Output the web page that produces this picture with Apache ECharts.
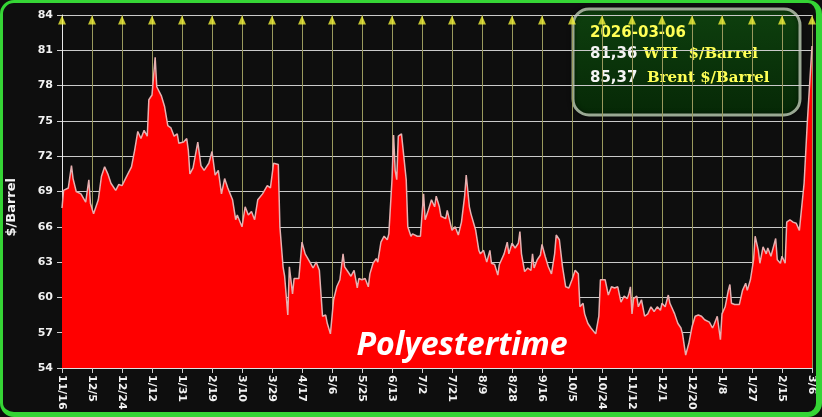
<!DOCTYPE html>
<html>
<head>
<meta charset="utf-8">
<script src="https://cdn.jsdelivr.net/npm/echarts@6/dist/echarts.min.js"></script>
<style>
  html, body { margin: 0; padding: 0; background: #000; }
  #wrap { position: relative; width: 822px; height: 417px; }
  #chart { position: absolute; left: 0; top: 0; width: 822px; height: 417px; }
  #frame {
    position: absolute; left: 0; top: 0; width: 822px; height: 417px;
    box-sizing: border-box; pointer-events: none;
    border: 3px solid #35d535; border-right-width: 6px; border-bottom-width: 5px;
    border-radius: 14px;
  }
</style>
</head>
<body>
<div id="wrap">
  <div id="chart"></div>
  <div id="frame"></div>
</div>
<script>
// tick labels, one every 19 days from 11/16
const xLabels = ['11/16', '12/5', '12/24', '1/12', '1/31', '2/19', '3/10', '3/29', '4/17', '5/6',
  '5/25', '6/13', '7/2', '7/21', '8/9', '8/28', '9/16', '10/5', '10/24', '11/12',
  '12/1', '12/20', '1/8', '1/27', '2/15', '3/6']
const labelStep = 19

// day offset from 11/16 and WTI price
const days = [0, 1, 4, 6, 7, 9, 12, 15, 17, 18, 20, 23, 25, 27, 29, 31, 34, 36, 38, 41,
  44, 46, 48, 50, 52, 54, 55, 57, 59, 60, 63, 65, 67, 69, 71, 73, 74, 77, 79, 80,
  81, 83, 86, 88, 90, 93, 95, 97, 99, 101, 103, 105, 108, 110, 111, 114, 116, 118, 120, 122,
  124, 127, 130, 132, 134, 137, 138, 140, 141, 143, 144, 146, 147, 150, 152, 154, 157, 159, 161, 163,
  165, 167, 168, 170, 172, 174, 176, 178, 179, 181, 183, 185, 187, 188, 190, 192, 194, 195, 197, 199,
  200, 202, 204, 206, 207, 209, 210, 211, 212, 213, 215, 216, 218, 219, 221, 222, 225, 227, 229, 230,
  232, 234, 236, 237, 239, 240, 243, 244, 247, 249, 251, 253, 255, 256, 258, 259, 262, 264, 265, 267,
  269, 271, 272, 274, 276, 277, 280, 282, 283, 285, 287, 289, 290, 291, 293, 295, 297, 298, 299, 301,
  303, 304, 306, 308, 310, 312, 313, 315, 317, 319, 321, 323, 325, 327, 328, 330, 331, 333, 335, 338,
  340, 341, 344, 345, 346, 348, 350, 352, 354, 356, 358, 359, 360, 361, 362, 364, 365, 367, 369, 371,
  373, 375, 377, 379, 380, 382, 384, 385, 386, 388, 390, 392, 393, 395, 397, 399, 401, 403, 405, 407,
  410, 412, 413, 415, 417, 418, 420, 422, 423, 424, 426, 429, 431, 433, 434, 436, 438, 439, 441, 442,
  444, 446, 447, 449, 452, 453, 455, 456, 458, 459, 461, 463, 465, 467, 470, 472, 475]
const wti = [67.6, 69.1, 69.3, 71.2, 70.1, 69.0, 68.8, 68.1, 70.0, 68.0, 67.1, 68.3, 70.3, 71.1, 70.5, 69.7, 69.1, 69.6, 69.5, 70.3,
  71.1, 72.5, 74.1, 73.5, 74.2, 73.7, 76.8, 77.2, 80.4, 77.9, 77.1, 76.2, 74.6, 74.4, 73.7, 73.9, 73.1, 73.2, 73.5, 72.5,
  70.5, 71.0, 73.2, 71.2, 70.8, 71.4, 72.4, 70.4, 70.8, 68.8, 70.1, 69.3, 68.3, 66.6, 67.0, 66.0, 67.7, 67.0, 67.3, 66.6,
  68.3, 68.8, 69.5, 69.3, 71.4, 71.3, 66.0, 62.6, 61.8, 58.5, 62.6, 60.3, 61.6, 61.6, 64.7, 63.7, 63.0, 62.5, 63.0, 62.3,
  58.4, 58.5, 57.8, 56.9, 59.8, 60.9, 61.5, 63.7, 62.6, 62.2, 61.8, 62.3, 60.8, 61.6, 61.5, 61.6, 60.9, 62.0, 62.9, 63.3,
  63.0, 64.7, 65.2, 64.9, 65.4, 70.0, 73.8, 70.8, 70.0, 73.7, 73.9, 73.8, 70.0, 66.0, 65.2, 65.4, 65.2, 65.2, 68.8, 66.6,
  67.4, 68.3, 67.7, 68.6, 67.7, 66.9, 66.7, 67.4, 65.7, 66.0, 65.3, 66.4, 68.6, 70.4, 67.7, 67.1, 65.7, 64.0, 63.7, 64.0,
  63.0, 64.0, 62.9, 62.8, 61.9, 62.8, 63.7, 64.7, 63.7, 64.6, 64.2, 64.6, 65.6, 63.7, 62.2, 62.5, 62.3, 63.7, 62.5, 63.2,
  63.6, 64.5, 63.5, 62.6, 62.0, 63.7, 65.3, 64.9, 62.6, 60.9, 60.8, 61.5, 62.3, 62.0, 59.2, 59.5, 58.6, 57.8, 57.4, 56.9,
  58.4, 61.5, 61.5, 61.5, 60.2, 60.9, 60.8, 60.9, 59.6, 60.1, 59.9, 60.3, 60.9, 58.6, 59.9, 60.1, 59.2, 59.8, 58.4, 58.6,
  59.2, 58.8, 59.2, 58.9, 59.5, 59.2, 60.2, 59.5, 59.2, 58.6, 57.8, 57.4, 56.9, 55.1, 56.1, 57.5, 58.4, 58.5, 58.4, 58.1,
  57.9, 57.4, 57.7, 58.4, 56.4, 58.6, 59.2, 60.6, 61.1, 59.5, 59.4, 59.4, 60.6, 61.2, 60.6, 61.5, 63.2, 65.2, 64.0, 62.9,
  64.3, 63.7, 64.2, 63.5, 65.0, 63.2, 62.9, 63.5, 62.9, 66.4, 66.6, 66.4, 66.3, 65.7, 69.7, 74.8, 81.36]

const lastDate = '2026-03-06'
const wtiLast = '81,36'
const brentLast = '85,37'

const chart = echarts.init(document.getElementById('chart'))

const option = {
  backgroundColor: '#0e0e0e',
  animation: false,
  grid: {
    left: 62,
    right: 10,
    top: 15,
    bottom: 49,
    containLabel: false,
    outerBoundsMode: 'none'
  },
  xAxis: {
    type: 'value',
    min: 0,
    max: (xLabels.length - 1) * labelStep,
    interval: labelStep,
    axisLine: { show: true, lineStyle: { color: '#e0e0e0', width: 1 } },
    axisTick: { show: true, length: 5, lineStyle: { color: '#d0d0d0' } },
    axisLabel: {
      rotate: -90,
      margin: 7,
      color: '#f2f2f2',
      fontFamily: 'DejaVu Sans',
      fontWeight: 'bold',
      fontSize: 11,
      showMinLabel: true,
      showMaxLabel: true,
      formatter: function (v) {
        return xLabels[Math.round(v / labelStep)]
      }
    },
    splitLine: { show: true, lineStyle: { color: '#9a9a5e', width: 1 } }
  },
  yAxis: {
    type: 'value',
    min: 54,
    max: 84,
    interval: 3,
    axisLine: { show: true, lineStyle: { color: '#e8e8e8', width: 1 } },
    axisTick: { show: true, length: 5, lineStyle: { color: '#d0d0d0' } },
    axisLabel: {
      margin: 9,
      color: '#f2f2f2',
      fontFamily: 'DejaVu Sans',
      fontWeight: 'bold',
      fontSize: 11
    },
    splitLine: { show: true, lineStyle: { color: '#cacaca', width: 1 } }
  },
  series: [
    {
      name: 'WTI',
      type: 'line',
      data: days.map((d, i) => [d, wti[i]]),
      symbol: 'none',
      lineStyle: { color: '#e6b0b0', width: 1.5 },
      areaStyle: { color: '#ff0000', opacity: 1 },
      z: 3
    },
    {
      type: 'scatter',
      data: xLabels.map((l, i) => [i * labelStep, 84]),
      symbol: 'triangle',
      symbolSize: [8, 9],
      symbolOffset: [0, 5],
      itemStyle: { color: '#f2f23a' },
      clip: false,
      silent: true,
      z: 5
    }
  ],
  graphic: [
    {
      type: 'text',
      left: 5,
      top: 178,
      rotation: Math.PI / 2,
      style: {
        text: '$/Barrel',
        fill: '#f2f2f2',
        font: 'bold 13px "DejaVu Sans"'
      }
    },
    {
      type: 'text',
      x: 462,
      y: 346,
      z: 20,
      style: {
        text: 'Polyestertime',
        fill: '#ffffff',
        font: 'italic bold 32px "Open Sans"',
        align: 'center',
        verticalAlign: 'middle',
        shadowColor: 'rgba(0,0,0,0.35)',
        shadowBlur: 2,
        shadowOffsetX: 1,
        shadowOffsetY: 1
      }
    },
    {
      type: 'group',
      x: 573,
      y: 9,
      z: 30,
      children: [
        {
          type: 'rect',
          shape: { x: 0, y: 0, width: 227, height: 106, r: 16 },
          style: {
            fill: new echarts.graphic.LinearGradient(0, 0, 0, 1, [
              { offset: 0, color: '#0e400e' },
              { offset: 1, color: '#062806' }
            ]),
            stroke: '#9aa893',
            lineWidth: 3,
            shadowColor: 'rgba(0,0,0,0.6)',
            shadowBlur: 4
          }
        },
        {
          type: 'text',
          x: 17,
          y: 24,
          style: {
            text: lastDate,
            fill: '#ffff55',
            font: 'bold 15px "DejaVu Sans"',
            verticalAlign: 'middle'
          }
        },
        {
          type: 'text',
          x: 17,
          y: 45,
          style: {
            text: wtiLast,
            fill: '#f4f4f4',
            font: 'bold 15px "DejaVu Sans"',
            verticalAlign: 'middle'
          }
        },
        {
          type: 'text',
          x: 70,
          y: 45,
          style: {
            text: 'WTI  $/Barrel',
            fill: '#ffff55',
            font: 'bold 15px "DejaVu Serif"',
            verticalAlign: 'middle'
          }
        },
        {
          type: 'text',
          x: 17,
          y: 69,
          style: {
            text: brentLast,
            fill: '#f4f4f4',
            font: 'bold 15px "DejaVu Sans"',
            verticalAlign: 'middle'
          }
        },
        {
          type: 'text',
          x: 74,
          y: 69,
          style: {
            text: 'Brent $/Barrel',
            fill: '#ffff55',
            font: 'bold 15px "DejaVu Serif"',
            verticalAlign: 'middle'
          }
        }
      ]
    }
  ]
}

chart.setOption(option)
</script>
</body>
</html>
